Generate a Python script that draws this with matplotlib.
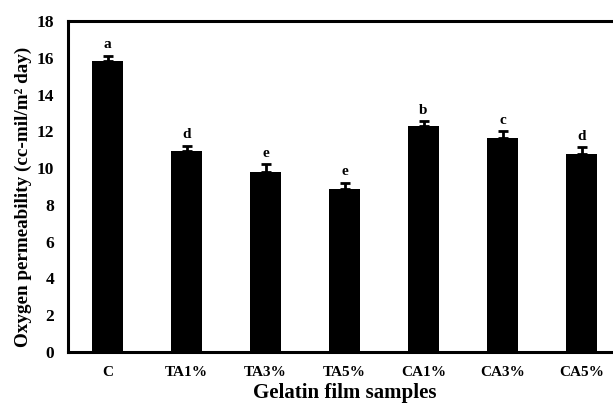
import matplotlib
matplotlib.use("Agg")
import matplotlib.pyplot as plt
import numpy as np

samples = ["C", "TA1%", "TA3%", "TA5%", "CA1%", "CA3%", "CA5%"]
permeability = [15.82, 10.95, 9.80, 8.85, 12.31, 11.65, 10.75]
std_err = [0.30, 0.27, 0.40, 0.35, 0.23, 0.35, 0.38]
groups = ["a", "d", "e", "e", "b", "c", "d"]
y_ticks = [0, 2, 4, 6, 8, 10, 12, 14, 16, 18]

plt.rcParams["font.family"] = ["Liberation Serif", "DejaVu Serif"]
plt.rcParams["font.weight"] = "bold"

fig = plt.figure(figsize=(6.13, 4.05), dpi=100)
ax = fig.add_axes([68 / 613, 1 - 352 / 405, 553 / 613, 331 / 405])

x = np.arange(len(samples))
ax.bar(x, permeability, width=0.4, color="black", zorder=2)
ax.errorbar(x, permeability, yerr=[np.zeros(len(std_err)), std_err],
            fmt="none", ecolor="black", elinewidth=2, capsize=3.5,
            capthick=2, zorder=3)

for xi, v, e, g in zip(x, permeability, std_err, groups):
    ax.text(xi, v + e + 0.25, g, ha="center", va="bottom",
            fontsize=11, fontweight="bold")

ax.set_xlim(-0.5, 6.5)
ax.set_ylim(0, 18)
ax.set_yticks(y_ticks)
ax.set_xticks(x)
ax.set_xticklabels(samples)
ax.tick_params(axis="both", length=0)
ax.tick_params(axis="x", pad=10, labelsize=11)
ax.tick_params(axis="y", pad=10, labelsize=12.5)
for lbl in ax.get_xticklabels() + ax.get_yticklabels():
    lbl.set_fontweight("bold")

for side in ["left", "bottom", "top"]:
    ax.spines[side].set_linewidth(2.2)
ax.spines["right"].set_visible(False)

ax.set_xlabel("Gelatin film samples", fontsize=15, fontweight="bold", labelpad=3)
ax.set_ylabel("Oxygen permeability (cc-mil/m\u00b2 day)", fontsize=13.8,
              fontweight="bold")
ax.yaxis.set_label_coords(-0.065, 0.47)

fig.savefig("out.png", dpi=100)
